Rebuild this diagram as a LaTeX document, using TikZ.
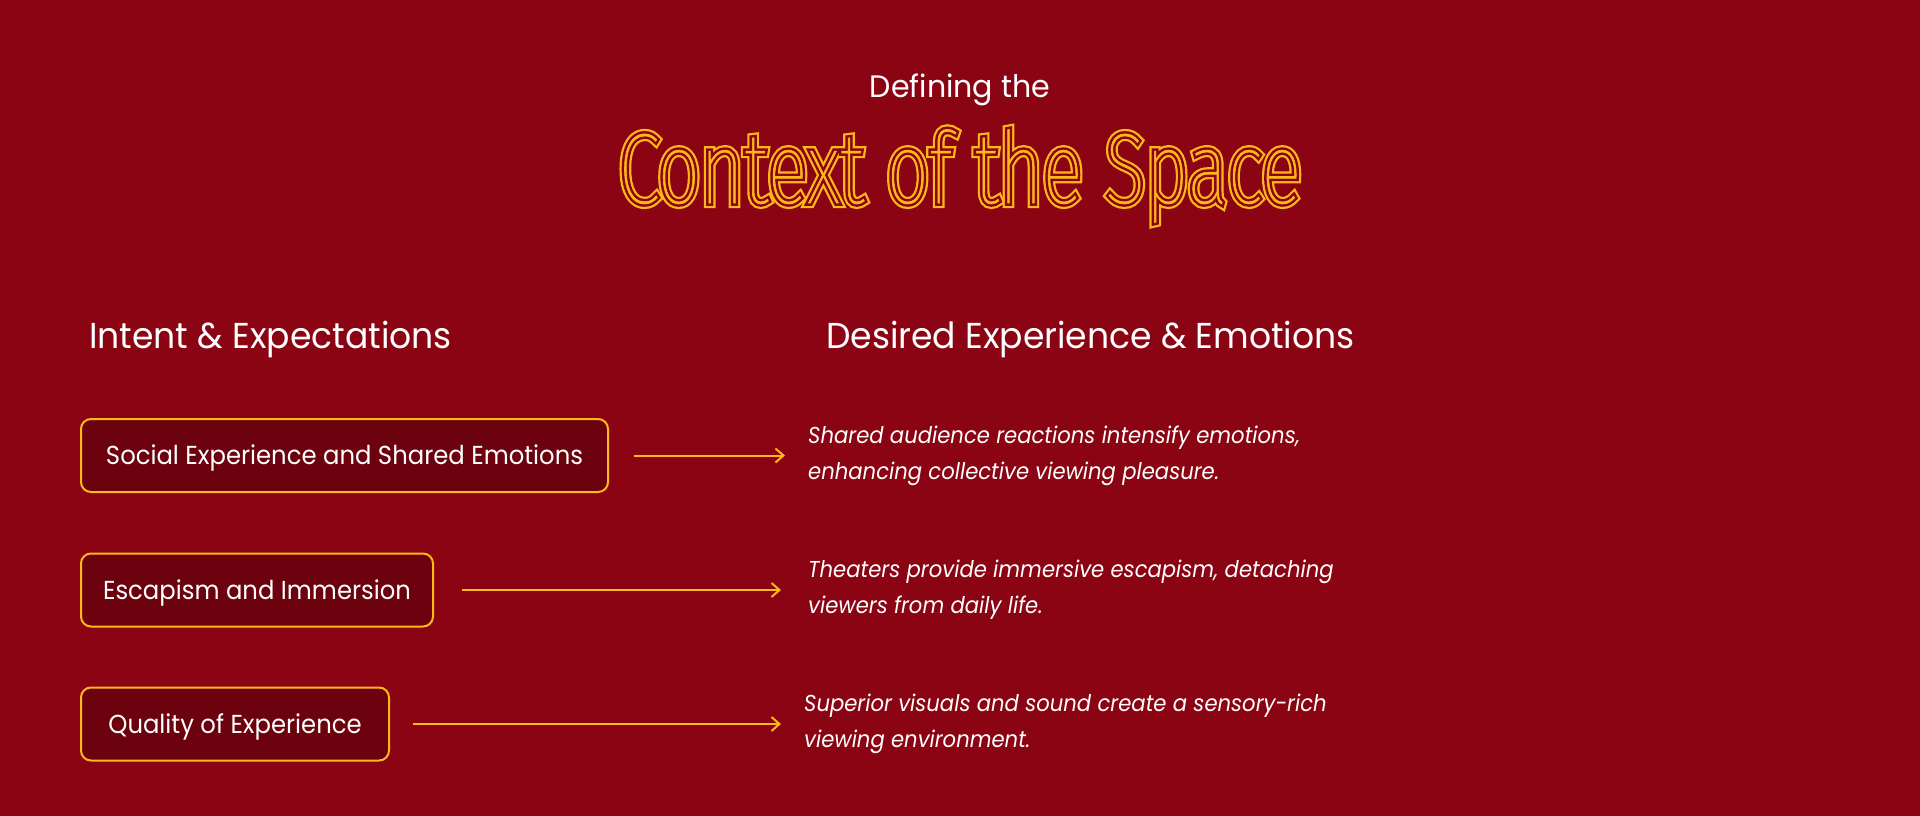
\documentclass[tikz,border=0pt]{standalone}
\usepackage{fontspec}
\usetikzlibrary{arrows.meta}
\setmainfont{Poppins}
\IfFontExistsTF{FiraSans-Thin.otf}{%
  \newfontfamily\titleA[FakeStretch=0.755,FakeBold=10]{FiraSans-Thin.otf}%
  \newfontfamily\titleB[FakeStretch=0.755,FakeBold=5.6]{FiraSans-Thin.otf}%
  \newfontfamily\titleC[FakeStretch=0.755,FakeBold=0.6]{FiraSans-Thin.otf}%
}{%
  \IfFontExistsTF{Fira Sans Thin}{%
    \newfontfamily\titleA[FakeStretch=0.755,FakeBold=10]{Fira Sans Thin}%
    \newfontfamily\titleB[FakeStretch=0.755,FakeBold=5.6]{Fira Sans Thin}%
    \newfontfamily\titleC[FakeStretch=0.755,FakeBold=0.6]{Fira Sans Thin}%
  }{%
    \newfontfamily\titleA[FakeStretch=0.755,FakeBold=10]{Fira Sans}%
    \newfontfamily\titleB[FakeStretch=0.755,FakeBold=5.6]{Fira Sans}%
    \newfontfamily\titleC[FakeStretch=0.755]{Fira Sans}%
  }%
}
\newfontfamily\subfont[FakeStretch=0.97]{Poppins}
\newfontfamily\headfont[FakeStretch=0.96]{Poppins}
\newfontfamily\boxfont[FakeStretch=0.935]{Poppins}
\newfontfamily\descfont[FakeStretch=0.92]{Poppins}
\definecolor{bgred}{HTML}{8A0413}
\definecolor{boxred}{HTML}{6B020E}
\definecolor{gold}{HTML}{FFB81A}
\tikzset{
  titlelayer/.style={anchor=base, inner sep=0pt},
  subtitle/.style={anchor=base, inner sep=0pt, text=white, font=\subfont\fontsize{31}{34}\selectfont},
  head/.style={anchor=base west, inner sep=0pt, text=white, font=\headfont\fontsize{36}{40}\selectfont},
  itembox/.style={anchor=west, draw=gold, line width=2pt, fill=boxred, rounded corners=10pt,
    minimum height=73pt, inner sep=0pt, text=white, text height=18pt, text depth=0pt,
    font=\boxfont\fontsize{26}{30}\selectfont},
  desc/.style={anchor=west, inner sep=0pt, align=left, text=white,
    font=\descfont\itshape\fontsize{23}{36}\selectfont},
  conn/.style={draw=gold, line width=2pt, -{Straight Barb[length=8pt,width=14pt]}}
}
\begin{document}
\begin{tikzpicture}[x=1pt,y=-1pt]
\useasboundingbox (0,0) rectangle (1920,816);
\fill[bgred] (0,0) rectangle (1920,816);

\node[subtitle] (sub) at (960,98) {Defining the};
\node[titlelayer, text=gold] (tA) at (960,203) {\titleA\fontsize{100}{110}\selectfont Context of the Space};
\node[titlelayer, text=bgred] (tB) at (960,203) {\titleB\fontsize{100}{110}\selectfont Context of the Space};
\node[titlelayer, text=gold] (tC) at (960,203) {\titleC\fontsize{100}{110}\selectfont Context of the Space};

\node[head] (h1) at (89,348) {Intent \& Expectations};
\node[head] (h2) at (826,348) {Desired Experience \& Emotions};

\node[itembox, minimum width=527pt] (b1) at (80,455.5) {Social Experience and Shared Emotions};
\node[itembox, minimum width=352pt] (b2) at (80,590) {Escapism and Immersion};
\node[itembox, minimum width=308pt] (b3) at (80,724) {Quality of Experience};

\node[desc] (t1) at (808,455.5) {Shared audience reactions intensify emotions,\\enhancing collective viewing pleasure.};
\node[desc] (t2) at (808,590) {Theaters provide immersive escapism, detaching\\viewers from daily life.};
\node[desc] (t3) at (804,724) {Superior visuals and sound create a sensory-rich\\viewing environment.};

\draw[conn, shorten <=25pt, shorten >=23pt] (b1.east) -- (b1.east -| t1.west);
\draw[conn, shorten <=28pt, shorten >=27pt] (b2.east) -- (b2.east -| t2.west);
\draw[conn, shorten <=23pt, shorten >=23pt] (b3.east) -- (b3.east -| t3.west);
\end{tikzpicture}
\end{document}
